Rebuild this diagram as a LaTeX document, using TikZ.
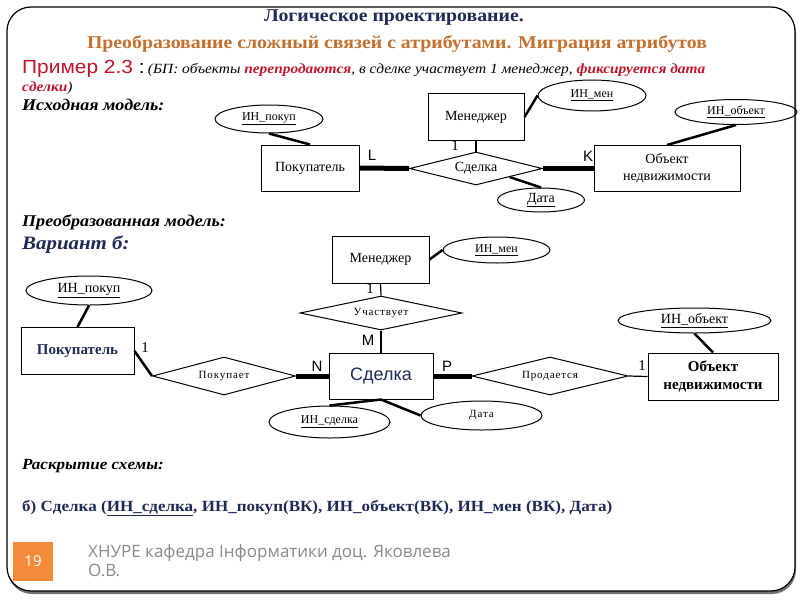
\documentclass[tikz,border=0pt]{standalone}
\usepackage{fontspec}
\setmainfont{Liberation Serif}
\setsansfont{Liberation Sans}
\newfontfamily\nserif[FakeStretch=1.1]{Liberation Serif}
\newfontfamily\nsans[FakeStretch=1.1]{Liberation Sans}
\newfontfamily\spserif[LetterSpace=8]{Liberation Serif}
\newfontfamily\ftfont{Open Sans}
\usetikzlibrary{shapes.geometric}
\definecolor{navy}{HTML}{1F2A55}
\definecolor{titor}{HTML}{C4702E}
\definecolor{rd}{HTML}{C0152B}
\definecolor{sqor}{HTML}{F28A3A}
\definecolor{ftgray}{HTML}{8A8A8A}
\newcommand{\fsz}[2]{\fontsize{#1}{#2}\selectfont}
\tikzset{
  ent/.style={draw, rectangle, inner sep=0pt, line width=1pt, align=center, font=\fsz{14}{17}},
  rel/.style={draw, diamond, aspect=4, inner sep=0pt, line width=1pt, font=\fsz{14}{16}},
  relsp/.style={rel, font=\spserif\fsz{11}{13}},
  attr/.style={draw, ellipse, inner sep=0pt, line width=1pt, font=\fsz{12}{14}},
  lnk/.style={line width=2.5pt},
  thk/.style={line width=5pt},
  thn/.style={line width=1.2pt},
  card/.style={font=\sffamily\fsz{15}{17}, inner sep=0pt},
  cardn/.style={font=\fsz{15}{17}, inner sep=0pt},
  hdr/.style={anchor=west, inner sep=0pt, font=\nserif\bfseries\itshape\fsz{16.4}{18}},
}
\begin{document}
\begin{tikzpicture}[x=1pt,y=-1pt]
\useasboundingbox (0,0) rectangle (800,600);
% frame
\fill[black!55, rounded corners=24] (8,10) rectangle (796,594);
\filldraw[fill=white, draw=black, line width=1.2pt, rounded corners=24] (7,7) rectangle (795,591);

% titles
\node[font=\nserif\bfseries\fsz{18}{20}, text=navy] (t1) at (394,18) {Логическое проектирование.};
\node[font=\nserif\bfseries\fsz{18}{20}, text=titor] (t2) at (397,44) {Преобразование сложный связей с атрибутами. Миграция атрибутов};
\node[anchor=base west, inner sep=0pt] (t3) at (22,73) {{\nsans\fsz{19}{21}\color{rd}Пример 2.3}{\nsans\fsz{19}{21} :} {\nserif\itshape\fsz{14}{16}(БП: объекты {\bfseries\color{rd}перепродаются}, в сделке участвует 1 менеджер, {\bfseries\color{rd}фиксируется дата}}};
\node[anchor=base west, inner sep=0pt] (t4) at (22,91) {\nserif\itshape\fsz{14}{16}{\bfseries\color{rd}сделки})};

\node[hdr] (h1) at (22,105) {Исходная модель:};
\node[hdr] (h2) at (22,222) {Преобразованная модель:};
\node[hdr, font=\nserif\bfseries\itshape\fsz{19}{21}, text=navy] (h3) at (22,245) {Вариант б:};
\node[hdr, font=\nserif\bfseries\itshape\fsz{15.5}{17}] (h4) at (22,466) {Раскрытие схемы:};
\node[anchor=west, inner sep=0pt, text=navy, font=\nserif\bfseries\fsz{15.5}{17}] (res) at (22,508) {б) Сделка (\underline{ИН\_сделка}, ИН\_покуп(ВК), ИН\_объект(ВК), ИН\_мен (ВК), Дата)};

% ---- source model
\node[attr, minimum width=108, minimum height=28] (ep1) at (269,119) {\underline{ИН\_покуп}};
\node[ent, minimum width=98, minimum height=46] (b1) at (310,168) {Покупатель};
\node[ent, minimum width=96, minimum height=47] (m1) at (476,117) {Менеджер};
\node[rel, minimum width=133, minimum height=33] (d1) at (476,168.5) {Сделка};
\node[ent, minimum width=146, minimum height=46] (o1) at (667,168.5) {Объект\\недвижимости};
\node[attr, minimum width=108, minimum height=31] (em1) at (592,95.5) {\underline{ИН\_мен}};
\node[attr, minimum width=122, minimum height=25] (eo1) at (736,112) {\underline{ИН\_объект}};
\node[attr, minimum width=87, minimum height=24, font=\fsz{14}{16}] (ed1) at (541,200) {\underline{Дата}};

\draw[thk] (b1.east) -- (d1.west);
\draw[thk] (d1.east) -- (o1.west);
\draw[thn] (m1.south) -- (d1.north);
\draw[lnk] (ep1.south) -- (b1.north);
\draw[lnk] (m1.east) -- (em1.west);
\draw[lnk] (eo1.south) -- (o1.north);
\draw[lnk] (d1.south east) -- (ed1.north);

\node[card] (lL) at (372,155) {L};
\node[card] (lK) at (588,156) {K};
\node[cardn] (l1a) at (455,146) {1};

% ---- transformed model
\node[ent, minimum width=97, minimum height=47] (m2) at (380.5,259.5) {Менеджер};
\node[attr, minimum width=107, minimum height=26] (em2) at (496.5,250) {\underline{ИН\_мен}};
\node[relsp, minimum width=162, minimum height=34] (p2) at (381,313) {Участвует};
\node[ent, minimum width=104, minimum height=46, font=\sffamily\fsz{18}{20}, text=navy] (dl2) at (381,376) {Сделка};
\node[ent, minimum width=113, minimum height=47, font=\bfseries\fsz{15}{17}, text=navy] (b2) at (77.5,351) {Покупатель};
\node[attr, minimum width=126, minimum height=29, font=\fsz{14}{16}] (ep2) at (89,290.5) {\underline{ИН\_покуп}};
\node[relsp, minimum width=143, minimum height=38] (bu2) at (224,376) {Покупает};
\node[relsp, minimum width=156, minimum height=38] (so2) at (550,376) {Продается};
\node[ent, minimum width=130, minimum height=47, font=\bfseries\fsz{15}{18}] (o2) at (713,376.5) {Объект\\недвижимости};
\node[attr, minimum width=153, minimum height=25, font=\fsz{14}{16}] (eo2) at (694.5,320.5) {\underline{ИН\_объект}};
\node[attr, minimum width=121, minimum height=32] (ei2) at (329.5,422) {\underline{ИН\_сделка}};
\node[attr, minimum width=121, minimum height=29, font=\spserif\fsz{11}{13}] (ed2) at (481.5,415.5) {Дата};

\draw[lnk] (m2.east) -- (em2.west);
\draw[thn] (m2.south) -- (p2.north);
\draw[thn] (p2.south) -- (dl2.north);
\draw[lnk] (ep2.south) -- (b2.north);
\draw[lnk] (b2.east) -- (bu2.west);
\draw[thk] (bu2.east) -- (dl2.west);
\draw[thk] (dl2.east) -- (so2.west);
\draw[thn] (so2.east) -- (o2.west);
\draw[lnk] (eo2.south) -- (o2.north);
\draw[lnk] (dl2.south) -- (ei2.north);
\draw[lnk] (dl2.south) -- (ed2.west);

\node[cardn] (l1b) at (370,289) {1};
\node[card] (lM) at (368,340) {M};
\node[cardn] (l1c) at (145,348) {1};
\node[card] (lN) at (317,366) {N};
\node[card] (lP) at (447,366) {P};
\node[cardn] (l1d) at (642,366) {1};

% footer
\node[fill=sqor, minimum width=40, minimum height=39, inner sep=0pt, text=white, font=\ftfont\fsz{15}{17}] (pg) at (33,561.5) {19};
\node[anchor=west, inner sep=0pt, text=ftgray, font=\ftfont\fsz{17}{19}, align=left] (ft) at (88,561) {ХНУРЕ кафедра Інформатики доц. Яковлева\\О.В.};
\end{tikzpicture}
\end{document}
